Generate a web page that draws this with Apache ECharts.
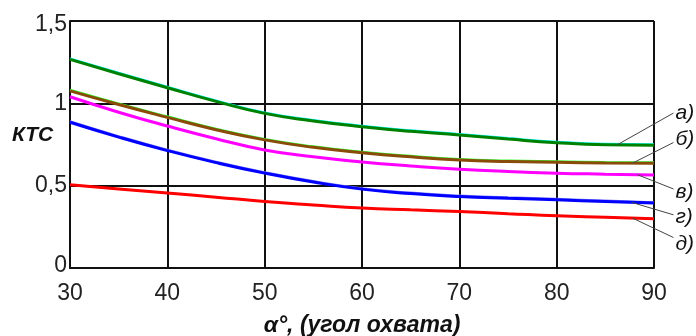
<!DOCTYPE html>
<html><head><meta charset="utf-8">
<script src="https://cdn.jsdelivr.net/npm/echarts@6/dist/echarts.min.js"></script>
<style>html,body{margin:0;padding:0;background:#fff}#c{width:696px;height:336px}</style>
</head><body><div id="c"></div>
<script>
// ---- data ----
const angles = [30, 35, 40, 45, 50, 55, 60, 65, 70, 75, 80, 85, 90];
const seriesA = [1.267, 1.18, 1.095, 1.012, 0.939, 0.893, 0.858, 0.830, 0.808, 0.783, 0.761, 0.748, 0.745];
const seriesB = [1.076, 0.993, 0.915, 0.840, 0.778, 0.733, 0.700, 0.675, 0.656, 0.647, 0.642, 0.638, 0.636];
const seriesV = [1.040, 0.946, 0.862, 0.785, 0.717, 0.675, 0.644, 0.620, 0.600, 0.586, 0.576, 0.570, 0.565];
const seriesG = [0.885, 0.795, 0.713, 0.640, 0.576, 0.522, 0.479, 0.452, 0.434, 0.423, 0.414, 0.404, 0.394];
const seriesD = [0.505, 0.480, 0.455, 0.430, 0.404, 0.383, 0.364, 0.353, 0.343, 0.330, 0.317, 0.308, 0.299];
const seriesLabels = ['а)', 'б)', 'в)', 'г)', 'д)'];
const xTicks = [30, 40, 50, 60, 70, 80, 90];
const yTicks = ['0', '0,5', '1', '1,5'];
const xName = 'α°, (угол охвата)';
const yName = 'КТС';

// ---- layout (annotation leaders: x on curve, label anchor in data units) ----
const leaderX = [86.2, 87.8, 88.3, 87.7, 87.8];
const labelAnchor = [[92.0, 0.941], [92.0, 0.762], [92.0, 0.480], [92.0, 0.323], [92.0, 0.185]];
const labelShift = [0, -3, 3, 2, 7];

const allSeries = [seriesA, seriesB, seriesV, seriesG, seriesD];
const colors = ['#008000', '#8a4a0a', '#ff00ff', '#0000ff', '#ff0000'];
const underColors = ['#00ffff', '#33ff33', null, '#8080ff', null];

function pairs(arr, dy) { return angles.map((a, i) => [a, arr[i] + (dy || 0)]); }
function valAt(arr, x) {
  for (let i = 0; i < angles.length - 1; i++) {
    if (x >= angles[i] && x <= angles[i + 1]) {
      const t = (x - angles[i]) / (angles[i + 1] - angles[i]);
      return arr[i] + t * (arr[i + 1] - arr[i]);
    }
  }
  return arr[arr.length - 1];
}

const series = [];
allSeries.forEach((arr, k) => {
  if (underColors[k]) {
    series.push({ type: 'line', data: pairs(arr, 0.006), smooth: true, symbol: 'none', silent: true,
      lineStyle: { color: underColors[k], width: 2 }, z: 2 });
  }
  series.push({ type: 'line', data: pairs(arr), smooth: true, symbol: 'none', silent: true,
    lineStyle: { color: colors[k], width: 3 }, z: 3 });
});

const chart = echarts.init(document.getElementById('c'), null, { renderer: 'canvas' });
const font = 'Liberation Sans, Arial, sans-serif';
chart.setOption({
  animation: false,
  backgroundColor: '#fff',
  grid: { left: 70, right: 42, top: 21, bottom: 68, containLabel: false, outerBoundsMode: 'none' },
  xAxis: {
    type: 'value', min: 30, max: 90, interval: 10,
    name: xName, nameLocation: 'middle', nameGap: 46,
    nameTextStyle: { fontFamily: font, fontSize: 23, fontWeight: 'bold', fontStyle: 'italic', color: '#111' },
    axisLine: { show: true, lineStyle: { color: '#111', width: 2 } },
    axisTick: { show: false },
    splitLine: { show: true, lineStyle: { color: '#111', width: 2 } },
    axisLabel: { fontFamily: font, fontSize: 23, color: '#222', margin: 14,
      formatter: v => xTicks.includes(v) ? String(v) : '' }
  },
  yAxis: {
    type: 'value', min: 0, max: 1.5, interval: 0.5,
    axisLine: { show: true, lineStyle: { color: '#111', width: 2 } },
    axisTick: { show: false },
    splitLine: { show: true, lineStyle: { color: '#111', width: 2 } },
    axisLabel: { fontFamily: font, fontSize: 23, color: '#222', margin: 3,
      formatter: v => {
        const i = Math.round(v / 0.5);
        if (i === 3) return '{top|' + yTicks[i] + '}';
        if (i === 0) return '{bot|' + yTicks[i] + '}';
        return yTicks[i];
      },
      rich: {
        top: { fontFamily: font, fontSize: 23, color: '#222', padding: [8, 0, 0, 0] },
        bot: { fontFamily: font, fontSize: 23, color: '#222', padding: [0, 0, 5, 0] }
      }
    }
  },
  series: series
});

const gfx = [{
  type: 'text', left: 12, top: 125,
  style: { text: yName, font: 'italic bold 21px ' + font, fill: '#111' }
}];
allSeries.forEach((arr, k) => {
  const p1 = chart.convertToPixel({ gridIndex: 0 }, [leaderX[k], valAt(arr, leaderX[k])]);
  const p2 = chart.convertToPixel({ gridIndex: 0 }, labelAnchor[k]);
  gfx.push({ type: 'line', shape: { x1: p1[0], y1: p1[1], x2: p2[0], y2: p2[1] },
    style: { stroke: '#444', lineWidth: 1 }, z: 10 });
  gfx.push({ type: 'text', x: p2[0] + 2, y: p2[1] + labelShift[k],
    style: { text: seriesLabels[k], font: 'italic 21px ' + font, fill: '#111',
      textVerticalAlign: 'middle', verticalAlign: 'middle' }, z: 10 });
});
chart.setOption({ graphic: gfx });
</script></body></html>
